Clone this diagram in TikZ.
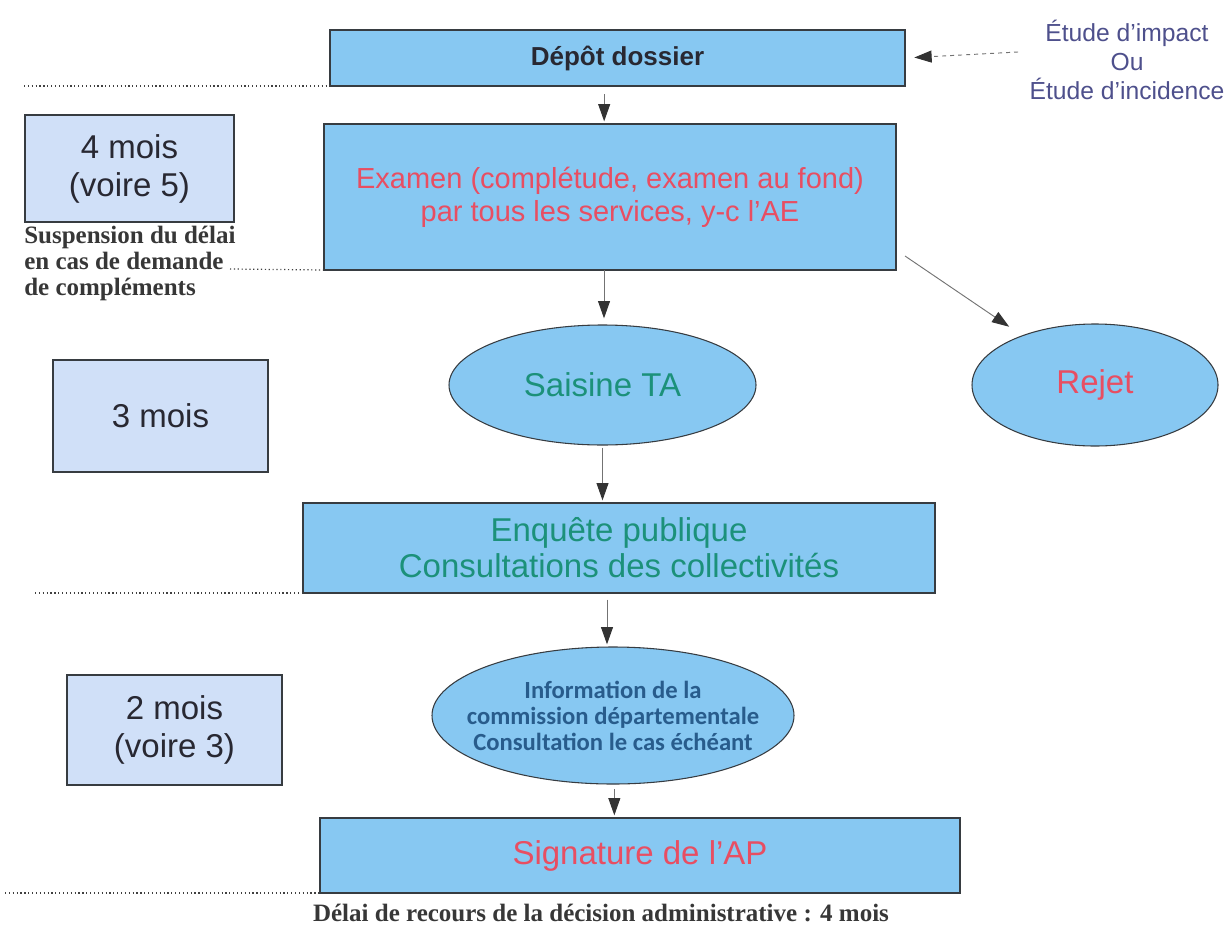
\documentclass[tikz,border=0pt]{standalone}
\usepackage{fontspec}
\setmainfont{Liberation Sans}
\newfontfamily\annfont{Liberation Serif}
\newfontfamily\infofont{Carlito}
\usetikzlibrary{arrows.meta,shapes.geometric}
\definecolor{boxblue}{RGB}{135,200,242}
\definecolor{durfill}{RGB}{208,224,248}
\definecolor{edge}{RGB}{55,60,65}
\definecolor{redtxt}{RGB}{232,78,98}
\definecolor{tealtxt}{RGB}{28,145,122}
\definecolor{infotxt}{RGB}{40,92,140}
\definecolor{etudetxt}{RGB}{78,80,140}
\definecolor{darktxt}{RGB}{40,40,50}
\definecolor{anntxt}{RGB}{55,55,55}
\begin{document}
\begin{tikzpicture}[x=0.75pt,y=-0.75pt,
 mainbox/.style={draw=edge,line width=1.2pt,fill=boxblue,inner sep=0pt,outer sep=0pt,align=center},
 durbox/.style={draw=edge,line width=1.2pt,fill=durfill,inner sep=0pt,outer sep=0pt,align=center,text=darktxt,font=\fontsize{24.75}{28.5}\selectfont,minimum width=161.25pt},
 oval/.style={ellipse,draw=edge,line width=0.8pt,fill=boxblue,inner sep=0pt,outer sep=0pt,align=center},
 arr/.style={draw=black!55,line width=0.7pt,-{Triangle[length=13pt,width=9pt,color=black!80]}},
 dots/.style={draw=black!75,dotted,line width=0.9pt},
 ann/.style={font=\annfont\bfseries\fontsize{18.75}{19.5}\selectfont,text=anntxt,inner sep=0pt},
 bigtxt/.style={font=\fontsize{24.75}{27}\selectfont}
]
\useasboundingbox (0,0) rectangle (1230,928);

% main flow
\node[mainbox,minimum width=431.25pt,minimum height=42pt,font=\bfseries\fontsize{19.5}{22}\selectfont,text=darktxt] (dep) at (617.5,58) {Dépôt dossier};
\node[mainbox,minimum width=429pt,minimum height=109.5pt,font=\fontsize{21.75}{24.75}\selectfont,text=redtxt] (exa) at (610,197) {Examen (complétude, examen au fond)\\par tous les services, y-c l'AE};
\node[oval,minimum width=230.25pt,minimum height=90pt,bigtxt,text=tealtxt] (sai) at (602.5,385) {Saisine TA};
\node[oval,minimum width=184.5pt,minimum height=91.5pt,bigtxt,text=redtxt] (rej) at (1095,385) {Rejet};
\node[mainbox,minimum width=474pt,minimum height=67.5pt,bigtxt,text=tealtxt] (enq) at (619,548) {Enquête publique\\Consultations des collectivités};
\node[oval,minimum width=271.5pt,minimum height=102.75pt] (info) at (613,715.5) {};
\node[align=center,inner sep=0pt,font=\infofont\bfseries\fontsize{18.5}{19.5}\selectfont,text=infotxt] (infotext) at (info.center) {Information de la\\commission départementale\\Consultation le cas échéant};
\node[mainbox,minimum width=480pt,minimum height=56.25pt,bigtxt,text=redtxt] (sig) at (640,855.5) {Signature de l'AP};

% durations
\node[durbox,minimum width=157pt,minimum height=80.25pt] (m4) at (129.5,168.5) {4 mois\\(voire 5)};
\node[durbox,minimum height=84pt] (m3) at (160.5,416) {3 mois};
\node[durbox,minimum height=82.5pt] (m2) at (174.5,730) {2 mois\\(voire 3)};

% annotations
\node[ann,align=left,anchor=west] (susp) at (24,263) {Suspension du délai\\en cas de demande\\de compléments};
\node[ann] (recours) at (601,913) {Délai de recours de la décision administrative : 4 mois};
\node[align=center,inner sep=0pt,font=\fontsize{18.5}{21.75}\selectfont,text=etudetxt] (etude) at (1127,60) {Étude d’impact\\Ou\\Étude d’incidence};

% dotted separators
\coordinate (d1) at (24,86);
\coordinate (d2) at (230,269);
\coordinate (d3) at (35,593);
\coordinate (d4) at (5,893);
\draw[dots] (d1) -- (dep.south west);
\draw[dots] (d2) -- (exa.south west);
\draw[dots] (d3) -- (enq.south west);
\draw[dots] (d4) -- (sig.south west);

% arrows
\draw[arr,shorten <=6pt,shorten >=2pt] ([xshift=-10pt]dep.south) -- ([xshift=-10pt]dep.south |- exa.north);
\draw[arr,shorten >=5pt] ([xshift=-4.5pt]exa.south) -- ([xshift=-4.5pt]exa.south |- sai.north);
\draw[arr,shorten <=2pt,shorten >=2pt] (sai.south) -- (sai.south |- enq.north);
\draw[arr,shorten <=5pt,shorten >=2pt] ([xshift=-9pt]enq.south) -- ([xshift=-9pt]enq.south |- info.north);
\draw[arr,shorten <=4pt,shorten >=2pt] ([xshift=1pt]info.south) -- ([xshift=1pt]info.south |- sig.north);
\draw[arr,shorten >=12pt] ([xshift=6.75pt,yshift=10.5pt]exa.south east) -- (rej);
\coordinate (etsrc) at (1018,52);
\draw[arr,dashed,shorten >=7pt] (etsrc) -- (dep.east);
\end{tikzpicture}
\end{document}
